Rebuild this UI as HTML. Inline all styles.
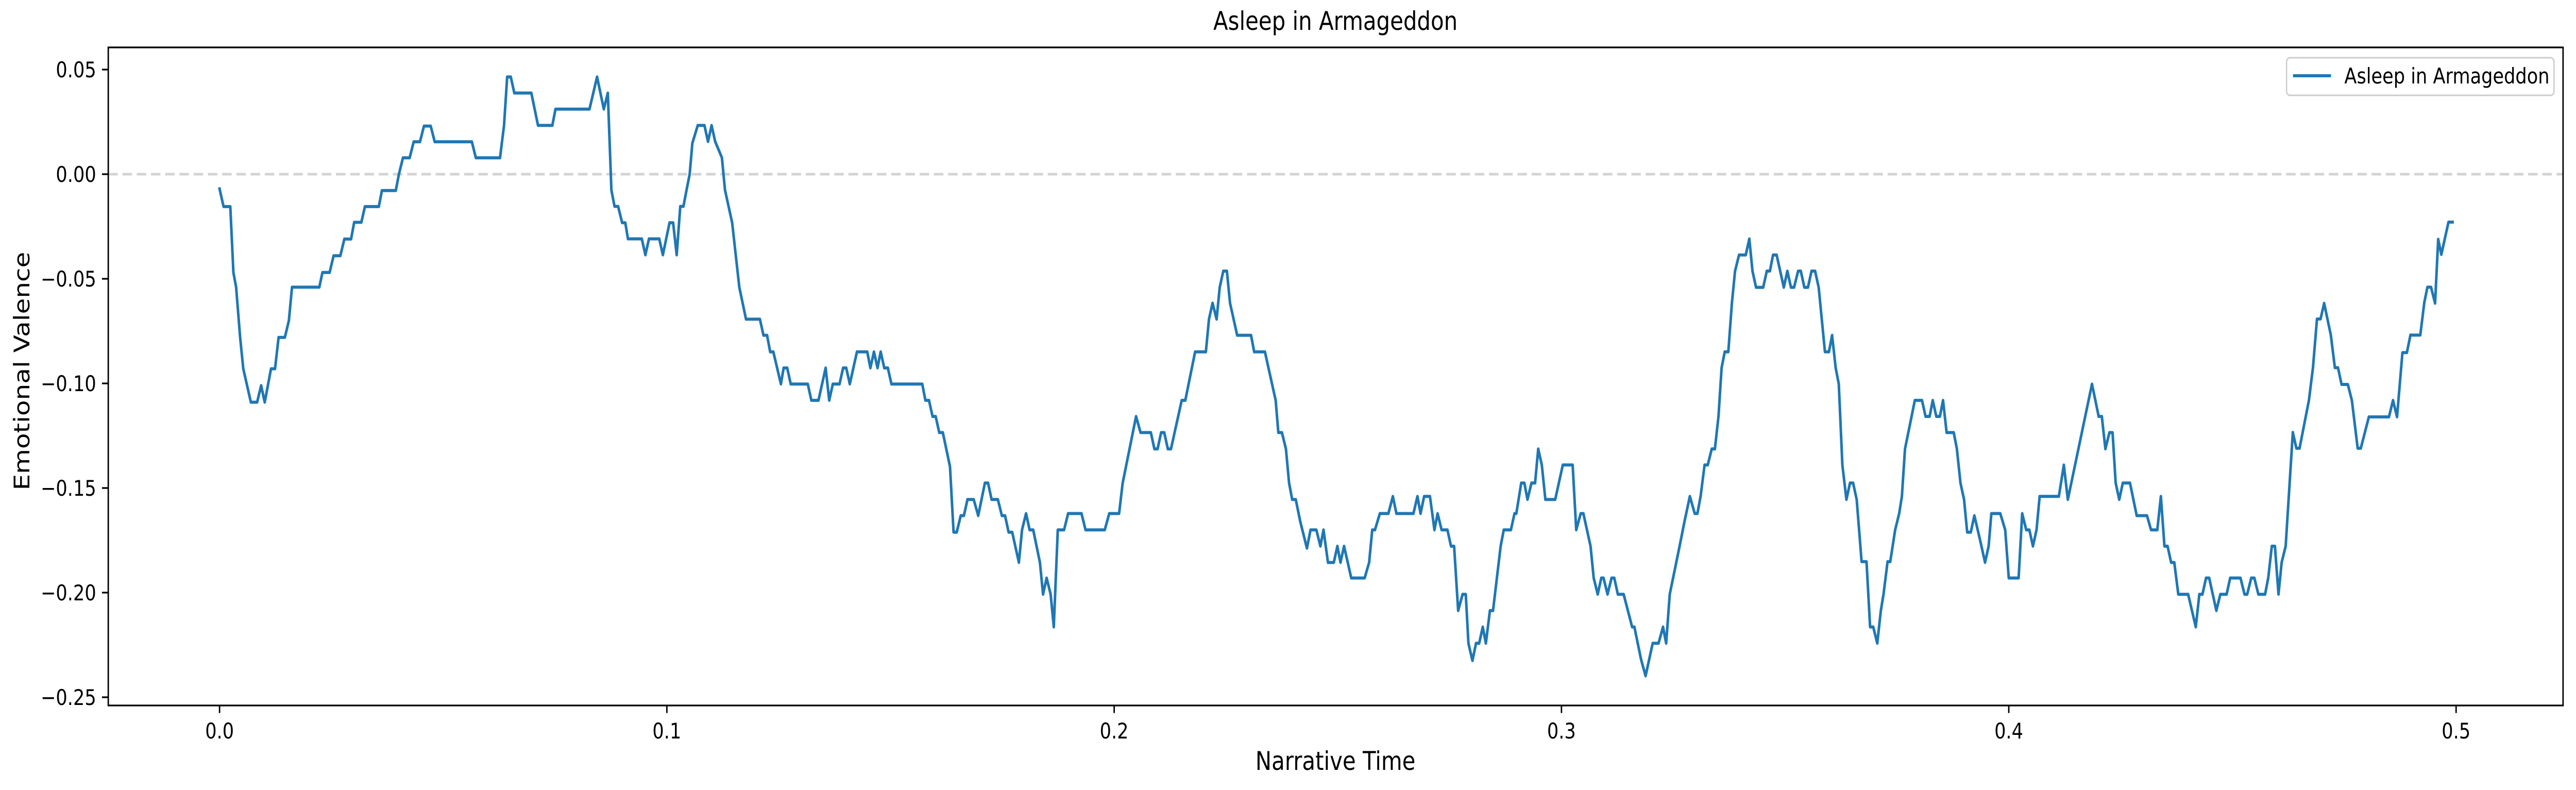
<!DOCTYPE html>
<html>
<head>
<meta charset="utf-8">
<meta name="viewport" content="width=5972, initial-scale=1">
<style>
  html, body { margin: 0; padding: 0; background: #ffffff; overflow: hidden; width: 100vw; height: 100vh; }
  svg { display: block; width: 100vw; height: 100vh; }
  text { font-family: "DejaVu Sans", "Liberation Sans", sans-serif; fill: #000; }
</style>
</head>
<body>
<svg id="chart" viewBox="0 0 5972 1533" preserveAspectRatio="none" xmlns="http://www.w3.org/2000/svg">
  <rect x="0" y="0" width="5972" height="1533" fill="#ffffff"></rect>
  <g id="grid-layer"></g>
  <g id="series-layer"></g>
  <g id="axes-layer"></g>
  <text x="3096" y="58" text-anchor="middle" font-size="50">Asleep in Armageddon</text>
  <text x="3096" y="1494" text-anchor="middle" font-size="50">Narrative Time</text>
  <text x="0" y="0" text-anchor="middle" font-size="50" transform="translate(68,720) rotate(-90)">Emotional Valence</text>
  <g>
    <rect x="5301" y="112" width="620" height="73" rx="8" ry="8" fill="#ffffff" fill-opacity="0.8" stroke="#cccccc" stroke-width="3"></rect>
    <line x1="5316" y1="147" x2="5404" y2="147" stroke="#1f77b4" stroke-width="6"></line>
    <text x="5435" y="162" font-size="42">Asleep in Armageddon</text>
  </g>
</svg>
<script>
const xTicks = [0.0, 0.1, 0.2, 0.3, 0.4, 0.5];
const xTickLabels = ["0.0", "0.1", "0.2", "0.3", "0.4", "0.5"];
const yTicks = [0.05, 0.0, -0.05, -0.10, -0.15, -0.20, -0.25];
const yTickLabels = ["0.05", "0.00", "\u22120.05", "\u22120.10", "\u22120.15", "\u22120.20", "\u22120.25"];
const seriesName = "Asleep in Armageddon";
const timeValues = [
0.0000,0.0009,0.0024,0.0031,0.0037,0.0046,0.0053,0.0070,0.0084,0.0093,0.0101,0.0115,0.0124,0.0132,0.0146,0.0155,0.0162,0.0223,0.0230,0.0246,0.0255,0.0270,0.0279,0.0294,0.0301,0.0317,0.0325,0.0356,0.0363,0.0394,0.0401,0.0410,0.0425,0.0434,0.0448,0.0457,0.0472,0.0481,0.0564,0.0573,0.0627,0.0636,0.0643,0.0651,0.0659,0.0697,0.0712,0.0744,0.0751,0.0827,0.0844,0.0859,0.0868,0.0876,0.0883,0.0891,0.0900,0.0907,0.0913,0.0944,0.0952,0.0960,0.0983,0.0991,0.1006,0.1014,0.1022,0.1030,0.1037,0.1044,0.1051,0.1057,0.1069,0.1084,0.1092,0.1100,0.1108,0.1123,0.1130,0.1146,0.1162,0.1177,0.1208,0.1216,0.1224,0.1231,0.1238,0.1255,0.1261,0.1269,0.1277,0.1315,0.1323,0.1339,0.1355,0.1363,0.1371,0.1386,0.1394,0.1401,0.1409,0.1425,0.1448,0.1455,0.1463,0.1471,0.1478,0.1486,0.1494,0.1502,0.1571,0.1578,0.1586,0.1594,0.1601,0.1609,0.1617,0.1633,0.1641,0.1648,0.1657,0.1664,0.1672,0.1686,0.1696,0.1711,0.1718,0.1726,0.1740,0.1749,0.1756,0.1764,0.1772,
0.1787,0.1794,0.1803,0.1811,0.1819,0.1834,0.1841,0.1849,0.1858,0.1865,0.1874,0.1888,0.1897,0.1927,0.1936,0.1979,0.1989,0.2011,
0.2019,0.2049,0.2059,0.2082,0.2090,0.2097,0.2105,0.2112,0.2120,0.2127,0.2151,0.2159,0.2181,0.2205,0.2212,0.2220,0.2229,0.2236,0.2244,0.2252,0.2259,0.2275,0.2306,0.2313,0.2337,0.2361,0.2367,0.2375,0.2384,0.2391,0.2398,0.2406,
0.2416,0.2431,0.2439,0.2452,0.2461,0.2468,0.2478,0.2491,0.2499,0.2506,0.2514,0.2530,0.2560,0.2570,0.2577,0.2583,0.2594,0.2613,0.2623,0.2631,0.2669,0.2678,0.2685,0.2693,0.2706,0.2716,0.2723,0.2732,0.2745,0.2753,0.2760,0.2769,0.2779,0.2786,0.2792,0.2801,0.2809,0.2816,0.2824,0.2831,0.2840,0.2847,0.2864,0.2871,0.2887,0.2895,0.2899,
0.2910,0.2917,0.2924,0.2933,0.2941,0.2948,0.2956,0.2964,0.2986,0.3003,0.3025,
0.3033,0.3043,0.3049,0.3065,0.3072,0.3081,0.3089,0.3094,0.3103,0.3112,0.3118,0.3126,0.3139,0.3158,0.3163,0.3178,0.3188,0.3204,0.3217,0.3227,0.3234,0.3242,0.3253,0.3264,0.3275,0.3287,0.3298,0.3304,0.3311,
0.3320,0.3327,0.3336,0.3343,0.3351,0.3358,0.3365,0.3373,0.3381,0.3388,0.3397,0.3412,0.3420,0.3427,0.3435,0.3451,0.3459,0.3466,0.3473,0.3481,0.3497,0.3505,0.3513,0.3520,0.3529,0.3535,0.3543,0.3551,0.3559,0.3567,0.3575,0.3589,0.3598,0.3605,0.3613,0.3620,0.3628,0.3637,0.3645,0.3652,0.3660,
0.3671,0.3682,0.3690,0.3697,0.3706,0.3714,0.3720,0.3729,0.3735,0.3746,0.3755,0.3761,
0.3768,0.3790,0.3806,0.3814,0.3823,0.3830,0.3838,0.3846,0.3853,0.3861,0.3877,0.3884,0.3892,0.3900,0.3907,0.3915,0.3923,
0.3936,0.3947,0.3955,0.3961,0.3981,0.3992,0.4000,0.4022,0.4030,0.4039,0.4046,0.4054,0.4062,0.4069,0.4112,
0.4123,0.4132,0.4186,0.4201,0.4208,0.4216,0.4225,0.4232,0.4239,0.4247,0.4255,0.4271,0.4286,0.4309,0.4318,0.4332,0.4340,
0.4348,0.4355,0.4363,0.4370,0.4379,0.4401,0.4418,0.4426,0.4433,0.4441,0.4448,0.4464,0.4473,0.4487,0.4495,0.4518,0.4527,0.4533,0.4542,0.4549,0.4558,0.4573,0.4580,0.4588,0.4595,0.4603,0.4610,0.4619,
0.4635,0.4643,0.4650,0.4671,0.4680,0.4689,0.4697,0.4705,0.4720,0.4729,0.4736,0.4744,0.4758,0.4767,0.4780,0.4787,0.4805,0.4850,0.4859,0.4868,0.4880,0.4890,0.4898,0.4920,0.4929,0.4936,0.4944,0.4953,0.4960,0.4967,0.4983,0.4992
];
const valenceValues = [
-0.0070,-0.0155,-0.0155,-0.0470,-0.0540,-0.0780,-0.0930,-0.1090,-0.1090,-0.1010,-0.1090,-0.0930,-0.0930,-0.0780,-0.0780,-0.0700,-0.0540,-0.0540,-0.0470,-0.0470,-0.0390,-0.0390,-0.0310,-0.0310,-0.0230,-0.0230,-0.0155,-0.0155,-0.0078,-0.0078,0.0000,0.0078,0.0078,0.0155,0.0155,0.0230,0.0230,0.0155,0.0155,0.0078,0.0078,0.0233,0.0465,0.0465,0.0388,0.0388,0.0233,0.0233,0.0311,0.0311,0.0465,0.0311,0.0388,-0.0076,-0.0154,-0.0154,-0.0232,-0.0232,-0.0309,-0.0309,-0.0386,-0.0309,-0.0309,-0.0386,-0.0232,-0.0232,-0.0386,-0.0154,-0.0154,-0.0076,0.0000,0.0148,0.0233,0.0233,0.0156,0.0233,0.0156,0.0079,-0.0076,-0.0232,-0.0541,-0.0693,-0.0693,-0.0770,-0.0770,-0.0849,-0.0849,-0.1003,-0.0926,-0.0926,-0.1003,-0.1003,-0.1081,-0.1081,-0.0926,-0.1081,-0.1003,-0.1003,-0.0926,-0.0926,-0.1003,-0.0849,-0.0849,-0.0926,-0.0849,-0.0926,-0.0849,-0.0926,-0.0926,-0.1003,-0.1003,-0.1081,-0.1081,-0.1158,-0.1158,-0.1235,-0.1235,-0.1398,-0.1711,-0.1711,-0.1632,-0.1632,-0.1555,-0.1555,-0.1632,-0.1476,-0.1476,-0.1555,-0.1555,-0.1632,-0.1632,-0.1711,-0.1711,
-0.1856,-0.1700,-0.1622,-0.1700,-0.1700,-0.1856,-0.2008,-0.1930,-0.2008,-0.2164,-0.1700,-0.1700,-0.1622,-0.1622,-0.1700,-0.1700,-0.1622,-0.1622,
-0.1476,-0.1158,-0.1235,-0.1235,-0.1313,-0.1313,-0.1235,-0.1235,-0.1313,-0.1313,-0.1081,-0.1081,-0.0849,-0.0849,-0.0693,-0.0616,-0.0693,-0.0541,-0.0463,-0.0463,-0.0616,-0.0770,-0.0770,-0.0849,-0.0849,-0.1081,-0.1235,-0.1235,-0.1313,-0.1476,-0.1555,-0.1555,
-0.1660,-0.1788,-0.1700,-0.1700,-0.1778,-0.1700,-0.1856,-0.1856,-0.1778,-0.1856,-0.1778,-0.1930,-0.1930,-0.1856,-0.1700,-0.1700,-0.1622,-0.1622,-0.1540,-0.1622,-0.1622,-0.1540,-0.1622,-0.1540,-0.1540,-0.1700,-0.1622,-0.1700,-0.1700,-0.1778,-0.1778,-0.2086,-0.2008,-0.2008,-0.2242,-0.2325,-0.2242,-0.2242,-0.2164,-0.2242,-0.2086,-0.2086,-0.1778,-0.1700,-0.1700,-0.1622,-0.1622,
-0.1476,-0.1476,-0.1555,-0.1476,-0.1476,-0.1313,-0.1390,-0.1555,-0.1555,-0.1390,-0.1390,
-0.1700,-0.1622,-0.1622,-0.1778,-0.1930,-0.2008,-0.1930,-0.1930,-0.2008,-0.1930,-0.1930,-0.2008,-0.2008,-0.2164,-0.2164,-0.2320,-0.2398,-0.2242,-0.2242,-0.2164,-0.2242,-0.2008,-0.1893,-0.1778,-0.1660,-0.1540,-0.1622,-0.1622,-0.1540,
-0.1390,-0.1390,-0.1313,-0.1313,-0.1158,-0.0926,-0.0849,-0.0849,-0.0616,-0.0463,-0.0386,-0.0386,-0.0309,-0.0463,-0.0541,-0.0541,-0.0463,-0.0463,-0.0386,-0.0386,-0.0541,-0.0463,-0.0541,-0.0541,-0.0463,-0.0463,-0.0541,-0.0541,-0.0463,-0.0463,-0.0541,-0.0849,-0.0849,-0.0770,-0.0926,-0.1003,-0.1390,-0.1555,-0.1476,-0.1476,-0.1555,
-0.1852,-0.1852,-0.2164,-0.2164,-0.2242,-0.2086,-0.2008,-0.1852,-0.1852,-0.1700,-0.1622,-0.1540,
-0.1313,-0.1081,-0.1081,-0.1158,-0.1158,-0.1081,-0.1158,-0.1158,-0.1081,-0.1235,-0.1235,-0.1313,-0.1476,-0.1555,-0.1711,-0.1711,-0.1632,
-0.1750,-0.1856,-0.1778,-0.1622,-0.1622,-0.1700,-0.1930,-0.1930,-0.1622,-0.1700,-0.1700,-0.1778,-0.1700,-0.1540,-0.1540,
-0.1390,-0.1555,-0.1003,-0.1158,-0.1158,-0.1313,-0.1235,-0.1235,-0.1476,-0.1555,-0.1476,-0.1476,-0.1632,-0.1632,-0.1700,-0.1700,-0.1540,
-0.1778,-0.1778,-0.1856,-0.1856,-0.2008,-0.2008,-0.2164,-0.2008,-0.2008,-0.1930,-0.1930,-0.2086,-0.2008,-0.2008,-0.1930,-0.1930,-0.2008,-0.2008,-0.1930,-0.1930,-0.2008,-0.2008,-0.1930,-0.1778,-0.1778,-0.2008,-0.1856,-0.1778,
-0.1234,-0.1310,-0.1310,-0.1081,-0.0925,-0.0692,-0.0692,-0.0617,-0.0769,-0.0925,-0.0925,-0.1005,-0.1005,-0.1081,-0.1310,-0.1310,-0.1160,-0.1160,-0.1081,-0.1160,-0.0853,-0.0853,-0.0769,-0.0769,-0.0612,-0.0540,-0.0540,-0.0617,-0.0311,-0.0384,-0.0229,-0.0229
];

const NS = "http://www.w3.org/2000/svg";
const plotLeft = 251, plotRight = 5942, plotTop = 92, plotBottom = 1369;
function xScale(v) { return 509 + v * 10370; }
function yScale(v) { return 338 - v * 4060; }

const gridLayer = document.getElementById('grid-layer');
const seriesLayer = document.getElementById('series-layer');
const axesLayer = document.getElementById('axes-layer');

const zero = document.createElementNS(NS, 'line');
zero.setAttribute('x1', plotLeft);
zero.setAttribute('x2', plotRight);
zero.setAttribute('y1', yScale(0));
zero.setAttribute('y2', yScale(0));
zero.setAttribute('stroke', '#d3d3d3');
zero.setAttribute('stroke-width', '5');
zero.setAttribute('stroke-dasharray', '22 11');


gridLayer.appendChild(zero);

let d = '';
for (let i = 0; i < timeValues.length; i++) {
  d += (i === 0 ? 'M' : 'L') + xScale(timeValues[i]).toFixed(1) + ',' + yScale(valenceValues[i]).toFixed(1);
}
const path = document.createElementNS(NS, 'path');
path.setAttribute('d', d);
path.setAttribute('fill', 'none');
path.setAttribute('stroke', '#1f77b4');
path.setAttribute('stroke-width', '6');
path.setAttribute('stroke-linejoin', 'round');
path.setAttribute('stroke-linecap', 'square');


seriesLayer.appendChild(path);

const frame = document.createElementNS(NS, 'rect');
frame.setAttribute('x', plotLeft);
frame.setAttribute('y', plotTop);
frame.setAttribute('width', plotRight - plotLeft);
frame.setAttribute('height', plotBottom - plotTop);
frame.setAttribute('fill', 'none');
frame.setAttribute('stroke', '#000');
frame.setAttribute('stroke-width', '3.3');


axesLayer.appendChild(frame);

for (let i = 0; i < xTicks.length; i++) {
  const x = xScale(xTicks[i]);
  const t = document.createElementNS(NS, 'line');
  t.setAttribute('x1', x); t.setAttribute('x2', x);
  t.setAttribute('y1', plotBottom); t.setAttribute('y2', plotBottom + 14.6);
  t.setAttribute('stroke', '#000'); t.setAttribute('stroke-width', '3.3');
  
  
  axesLayer.appendChild(t);
  const lb = document.createElementNS(NS, 'text');
  lb.setAttribute('x', x); lb.setAttribute('y', plotBottom + 64);
  lb.setAttribute('text-anchor', 'middle'); lb.setAttribute('font-size', '42');
  lb.textContent = xTickLabels[i];
  
  
  axesLayer.appendChild(lb);
}
for (let i = 0; i < yTicks.length; i++) {
  const y = yScale(yTicks[i]);
  const t = document.createElementNS(NS, 'line');
  t.setAttribute('x1', plotLeft - 14.6); t.setAttribute('x2', plotLeft);
  t.setAttribute('y1', y); t.setAttribute('y2', y);
  t.setAttribute('stroke', '#000'); t.setAttribute('stroke-width', '3.3');
  
  
  axesLayer.appendChild(t);
  const lb = document.createElementNS(NS, 'text');
  lb.setAttribute('x', plotLeft - 28); lb.setAttribute('y', y + 15);
  lb.setAttribute('text-anchor', 'end'); lb.setAttribute('font-size', '42');
  lb.textContent = yTickLabels[i];
  
  
  axesLayer.appendChild(lb);
}
</script>
</body>
</html>
